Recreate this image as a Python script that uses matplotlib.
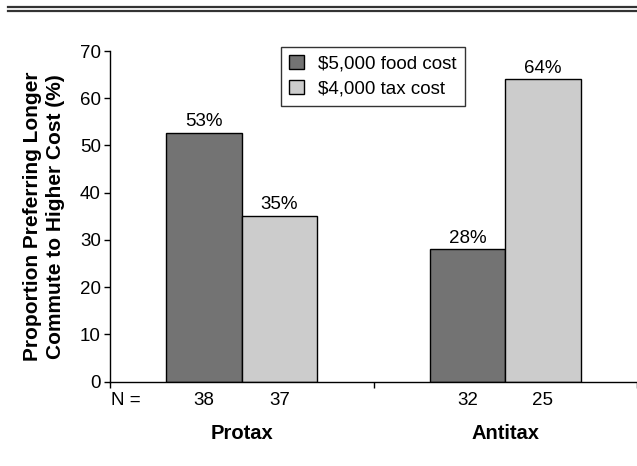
import matplotlib
matplotlib.use("Agg")
import matplotlib.pyplot as plt
from matplotlib.lines import Line2D

plt.rcParams['font.family'] = ['Liberation Sans', 'DejaVu Sans']

groups = ["Protax", "Antitax"]
series_names = ["$5,000 food cost", "$4,000 tax cost"]
food_values = [52.6, 28.0]
tax_values = [35.0, 64.0]
food_n = [38, 32]
tax_n = [37, 25]
y_ticks = [0, 10, 20, 30, 40, 50, 60, 70]

food_color = "#737373"
tax_color = "#cccccc"
fs = 13.5

W, H = 637, 466
fig = plt.figure(figsize=(W / 100, H / 100), dpi=100)
ax = fig.add_axes([110 / W, (H - 381.5) / H, 527 / W, 330.5 / H])

width = 0.2865
xs = list(range(len(groups)))
food_x = [x - width / 2 for x in xs]
tax_x = [x + width / 2 for x in xs]

ax.bar(food_x, food_values, width, color=food_color, edgecolor="black",
       linewidth=1.0, label=series_names[0], zorder=2)
ax.bar(tax_x, tax_values, width, color=tax_color, edgecolor="black",
       linewidth=1.0, label=series_names[1], zorder=2)

for xpos, val in list(zip(food_x, food_values)) + list(zip(tax_x, tax_values)):
    ax.annotate(f"{val:.0f}%", xy=(xpos, val), xytext=(0, 2), textcoords="offset points",
                ha="center", va="bottom", fontsize=fs)

ax.set_xlim(-0.5, 1.5)
ax.set_ylim(0, 70)
ax.set_yticks(y_ticks)
ax.set_yticklabels([str(t) for t in y_ticks], fontsize=fs)
ax.set_xticks([-0.5, 0.5, 1.5])
ax.set_xticklabels([])
ax.tick_params(axis="both", direction="out", length=4.5, width=1, color="black", pad=2)
for s in ["top", "right"]:
    ax.spines[s].set_visible(False)
for s in ["left", "bottom"]:
    ax.spines[s].set_linewidth(1)
    ax.spines[s].set_color("black")

ax.set_ylabel("Proportion Preferring Longer\nCommute to Higher Cost (%)",
              fontsize=15, fontweight="bold", labelpad=11, linespacing=1.22)

# sample sizes under each bar
ax.annotate("N =", xy=(-0.5, 0), xycoords=("data", "axes fraction"),
            xytext=(0.5, -13.5), textcoords="offset points", ha="left", va="center",
            fontsize=fs)
for xpos, n in list(zip(food_x, food_n)) + list(zip(tax_x, tax_n)):
    ax.annotate(str(n), xy=(xpos, 0), xycoords=("data", "axes fraction"),
                xytext=(0, -13.5), textcoords="offset points", ha="center", va="center",
                fontsize=fs)
for xpos, g in zip(xs, groups):
    ax.annotate(g, xy=(xpos, 0), xycoords=("data", "axes fraction"),
                xytext=(0, -37.5), textcoords="offset points", ha="center", va="center",
                fontsize=14.5, fontweight="bold")

leg = ax.legend(loc="upper left", bbox_to_anchor=(281 / W, 1 - 47 / H),
                bbox_transform=fig.transFigure, fontsize=fs, frameon=True,
                fancybox=False, edgecolor="black", handlelength=0.75, handleheight=0.75,
                handletextpad=0.75, borderpad=0.45, labelspacing=0.4, borderaxespad=0)
leg.get_frame().set_linewidth(1)

# double rule across the top
for yy in (6.7, 11.0):
    fig.add_artist(Line2D([8 / W, 1.0], [1 - yy / H, 1 - yy / H], transform=fig.transFigure,
                          color="#333333", linewidth=1.6))

fig.savefig("out.png", dpi=100)
